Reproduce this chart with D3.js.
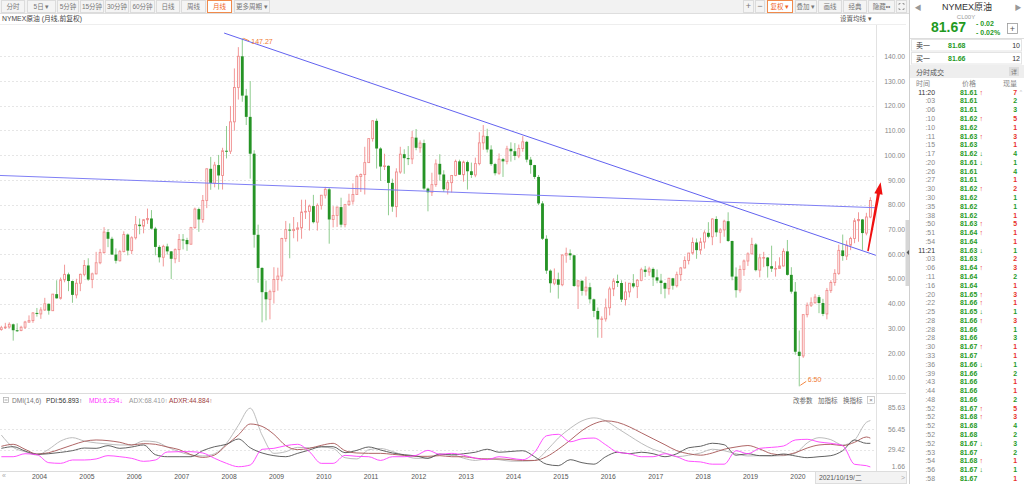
<!DOCTYPE html>
<html><head><meta charset="utf-8">
<script src="https://cdn.jsdelivr.net/npm/d3@7"></script>
<style>
html,body{margin:0;padding:0;background:#fff;overflow:hidden}
svg{display:block;font-family:"Liberation Sans","Noto Sans CJK SC",sans-serif}
</style></head><body>
<svg id="c" width="1024" height="484"></svg>
<script>
// ---------------- DATA ----------------
// monthly candles, 2003-06 .. 2021-10
const opens = [
29.5,30.2,30.5,31.6,29.2,29.1,30.4,
32.5,33.1,36.2,35.8,37.4,39.9,37.1,43.8,42.1,49.6,51.8,49.1,
43.5,48.2,51.8,55.4,49.7,52.0,56.5,60.6,68.9,66.2,59.8,57.3,
61.0,67.9,61.4,66.6,71.9,71.3,73.9,74.4,70.3,62.9,58.7,63.1,
61.1,58.1,61.8,65.9,65.7,64.0,70.7,78.2,74.0,81.7,94.5,88.7,
96.0,91.8,101.8,101.6,113.5,127.4,140.0,124.1,115.5,100.6,67.8,54.4,
44.6,41.7,44.8,49.7,51.1,66.3,69.9,69.5,70.0,70.6,77.0,77.3,
79.4,72.9,79.7,83.8,86.2,74.0,75.6,79.0,71.9,80.0,81.4,84.1,
91.4,92.2,97.0,106.7,113.9,102.7,95.4,95.7,88.8,79.2,93.2,100.4,
98.8,98.5,107.1,103.0,104.9,86.5,85.0,88.1,96.5,92.2,86.2,88.9,
91.8,97.5,92.1,97.2,93.5,92.0,96.6,105.0,107.7,102.3,96.4,92.7,
98.4,97.5,102.6,101.6,99.7,102.7,105.4,98.2,96.0,91.2,80.5,66.2,
53.3,48.2,49.8,47.6,59.6,60.3,59.5,47.1,49.2,45.1,46.6,41.7,
37.0,33.6,33.8,38.3,45.9,49.1,48.3,41.6,44.7,48.2,46.9,49.4,
53.7,52.8,54.0,50.6,49.3,48.3,46.0,50.2,47.2,51.7,54.4,57.4,
60.4,64.7,61.6,64.9,68.6,67.0,74.2,68.8,69.8,73.3,65.3,50.9,
45.4,53.8,57.2,60.1,63.9,53.5,58.5,58.6,55.1,54.1,54.2,55.2,
61.1,51.6,44.8,20.5,18.8,35.5,39.3,40.3,42.6,40.2,35.8,45.3,
48.5,52.2,61.5,59.2,63.6,66.3,73.5,74.0,68.5,75.0];
const highs = [
31.0,32.2,32.4,31.9,32.0,31.0,33.0,
35.2,36.5,38.2,38.5,42.3,40.0,43.8,49.4,50.5,55.7,52.5,49.3,
50.0,52.1,57.6,58.3,52.5,60.9,62.1,70.9,70.1,67.0,62.3,61.7,
69.2,68.3,67.2,75.4,74.4,74.2,78.4,77.8,71.0,63.6,63.8,64.2,
61.2,62.3,68.1,68.1,66.6,71.0,78.8,78.8,83.9,94.7,99.3,97.3,
100.1,103.0,111.8,119.9,135.1,143.7,147.27,126.8,130.0,102.0,71.9,54.7,
49.3,45.6,54.7,54.5,66.6,73.4,72.4,75.0,72.9,82.0,82.0,80.0,
83.95,80.5,83.9,87.2,87.0,79.4,79.2,82.8,80.3,84.4,88.6,92.1,
92.6,103.4,106.9,114.2,114.8,103.2,100.6,95.9,90.5,94.7,103.4,102.4,
103.7,109.8,110.6,106.0,106.3,86.9,92.9,98.3,100.4,93.9,89.9,92.0,
98.2,98.2,97.8,97.8,97.0,99.0,109.3,112.2,110.7,104.0,96.9,100.7,
98.9,103.8,105.2,104.9,104.3,107.7,105.8,99.3,96.1,92.0,81.4,67.6,
53.8,54.2,52.5,59.9,62.6,61.9,59.7,49.3,49.4,50.9,48.4,42.0,
38.4,34.8,42.0,46.8,50.2,51.7,49.4,48.8,48.3,51.9,49.9,54.5,
55.2,54.9,54.6,53.8,52.0,48.6,50.4,50.4,52.9,54.8,59.1,60.5,
66.7,66.3,66.6,69.6,72.9,74.5,75.3,70.5,73.9,76.9,65.4,54.6,
55.4,57.8,60.7,66.6,64.5,60.1,60.9,58.8,63.4,57.1,58.7,62.3,
65.7,54.7,48.7,29.1,35.7,40.4,42.5,43.8,43.4,41.9,46.3,49.4,
53.9,63.8,67.9,65.5,67.0,74.5,76.9,74.2,76.7,83.0];
const lows = [
29.0,29.7,30.0,25.0,28.5,28.8,29.7,
32.2,32.2,34.7,33.8,37.0,35.5,37.0,42.0,41.6,48.6,45.0,40.3,
42.1,45.0,51.0,49.2,46.2,51.8,55.9,60.2,62.8,59.7,56.2,57.0,
60.7,59.5,60.0,65.9,68.0,68.4,72.2,69.9,59.5,56.6,55.0,59.8,
49.9,56.3,56.8,61.9,61.3,63.8,70.2,69.0,72.7,78.6,86.0,87.0,
86.1,86.1,98.7,100.5,109.9,122.5,121.6,112.2,90.5,62.6,48.4,32.4,
33.2,33.6,40.0,45.2,49.0,65.0,58.3,66.4,65.1,66.2,74.2,69.5,
72.4,69.5,78.0,82.5,64.2,70.8,71.0,70.8,70.8,79.5,80.0,84.0,
85.1,84.1,96.9,105.5,94.6,89.6,94.0,75.7,77.1,74.9,92.5,92.5,
96.0,96.4,102.0,101.0,86.0,77.3,83.5,87.2,89.7,85.1,84.1,84.9,
91.5,92.0,89.3,86.1,90.8,91.1,95.9,102.2,101.1,95.7,91.8,92.1,
91.2,96.3,97.4,98.0,98.8,101.4,97.1,92.5,90.4,79.8,65.7,52.0,
44.4,47.4,42.0,47.0,56.5,57.6,46.7,37.8,43.2,43.2,40.0,34.5,
26.2,26.1,32.7,35.2,43.0,46.7,40.6,39.2,42.5,46.2,42.2,49.0,
50.7,51.2,47.1,48.2,43.8,42.1,43.6,45.6,46.5,49.1,54.2,55.8,
59.8,58.1,59.9,62.2,66.4,63.6,67.0,64.4,67.0,64.9,49.4,42.4,
44.4,51.2,55.2,59.9,53.0,50.6,54.7,50.5,52.8,50.9,54.0,55.0,
51.3,44.0,19.3,6.50,18.0,34.4,38.6,40.0,36.1,34.9,33.6,44.3,
47.2,51.6,57.3,57.6,61.6,64.4,65.0,61.7,67.6,74.5];
const closes = [
30.2,30.5,31.6,29.2,29.1,30.4,32.5,
33.1,36.2,35.8,37.4,39.9,37.1,43.8,42.1,49.6,51.8,49.1,43.5,
48.2,51.8,55.4,49.7,52.0,56.5,60.6,68.9,66.2,59.8,57.3,61.0,
67.9,61.4,66.6,71.9,71.3,73.9,74.4,70.3,62.9,58.7,63.1,61.1,
58.1,61.8,65.9,65.7,64.0,70.7,78.2,74.0,81.7,94.5,88.7,96.0,
91.8,101.8,101.6,113.5,127.4,140.0,124.1,115.5,100.6,67.8,54.4,44.6,
41.7,44.8,49.7,51.1,66.3,69.9,69.5,70.0,70.6,77.0,77.3,79.4,
72.9,79.7,83.8,86.2,74.0,75.6,79.0,71.9,80.0,81.4,84.1,91.4,
92.2,97.0,106.7,113.9,102.7,95.4,95.7,88.8,79.2,93.2,100.4,98.8,
98.5,107.1,103.0,104.9,86.5,85.0,88.1,96.5,92.2,86.2,88.9,91.8,
97.5,92.1,97.2,93.5,92.0,96.6,105.0,107.7,102.3,96.4,92.7,98.4,
97.5,102.6,101.6,99.7,102.7,105.4,98.2,96.0,91.2,80.5,66.2,53.3,
48.2,49.8,47.6,59.6,60.3,59.5,47.1,49.2,45.1,46.6,41.7,37.0,
33.6,33.8,38.3,45.9,49.1,48.3,41.6,44.7,48.2,46.9,49.4,53.7,
52.8,54.0,50.6,49.3,48.3,46.0,50.2,47.2,51.7,54.4,57.4,60.4,
64.7,61.6,64.9,68.6,67.0,74.2,68.8,69.8,73.3,65.3,50.9,45.4,
53.8,57.2,60.1,63.9,53.5,58.5,58.6,55.1,54.1,54.2,55.2,61.1,
51.6,44.8,20.5,18.8,35.5,39.3,40.3,42.6,40.2,35.8,45.3,48.5,
52.2,61.5,59.2,63.6,66.3,73.5,74.0,68.5,75.0,81.67];

const priceTicks = [10,20,30,40,50,60,70,80,90,100,110,120,130,140];
const yearKeys = ["2004-01","2005-01","2006-01","2007-01","2008-01","2009-01","2010-01","2011-01","2012-01","2013-01","2014-01","2015-01","2016-01","2017-01","2018-01","2019-01","2020-01"];
const yearLabels = ["2004","2005","2006","2007","2008","2009","2010","2011","2012","2013","2014","2015","2016","2017","2018","2019","2020"];

// drawn lines: [month index, price]
const trendDown = [[56.4,149.4],[221.4,59.5]];
const trendFlat = [[-0.34,91.8],[221.4,78.75]];
const redArrow  = [[219.4,61.2],[222.6,89.1]];

// DMI(14,6), one reading every 3rd month plus the last month
const dmiTicks = [1.66,29.42,56.45,85.63];
const adx = [49,32.5,26.7,22.3,30,41,45.5,41,38.5,37,35.7,35.7,41,40,33,26.7,22.3,21,24,38,62,85,49,24.5,26.7,32.5,32,33,31,18.7,17,29.4,31,27,21.5,17.8,18.2,22.7,23,
 18,15,17,16,14,14,15,28,45,58,68,72,68,58,48,38,30,25,20,22,25,30,28,24,21,
 21.4,21,21.4,24.5,38.4,45.5,42.8,35.7,42.4,66,68.4];
const adxr = [33.9,36.6,29.9,23.6,25.4,30.3,35.7,40.6,42.4,41.5,39.3,35.7,37.5,36.6,33,29.5,22.7,19.1,22.3,35.7,49.1,63.8,60.6,50,34.8,29.5,31.2,35.2,37.9,28.1,25,24.5,24.5,23.2,21.8,20.5,20.5,21.4,20,
 20,18,17,17,16,15,15,20,30,42,55,64,68,66,60,52,44,36,28,24,22,25,30,33,35,
 30.3,24,22.3,25.4,31.6,35.7,36.6,34.8,39.3,46.4,44.9];
const pdi = [31.2,33.4,27.6,23.2,24,25.8,28.1,31.6,31.2,34.8,31.2,33,35.7,22.7,20,20,20,28.1,33.4,36.6,43.7,32,25,21.4,20,24.5,29,33.4,33.4,25.4,28.5,33,29,25,22.7,21,17.8,23.6,22.3,
 24,26,30,26,27,28,20,10,8,16,12,10,20,26,24,26,24,20,24,32,34,38,36,22,24,
 21.4,21.4,23.6,21,18.7,20,21.4,28.1,42.4,37.9,37.9];
const mdi = [20,20,24,22.7,12,11.1,15.6,15.6,17,21.4,20,17.8,13.8,15.6,26.3,26.7,26.7,25,17.8,11.1,6.6,8.9,29.9,31.2,34.8,36.6,26.7,11.1,11.1,21.8,20.5,20,15,20,20,21.8,28.5,23.2,24.5,
 22,18,16,20,18,16,26,48,50,40,44,45,36,26,24,20,20,24,20,14,13,10,10,28,24,
 31.2,32.5,34.3,42.4,43.3,39.7,37.9,34.8,9.8,8,6.3];

// right panel: time & sales
const tradeTimes = ["11:20",":03",":06",":10",":10",":11",":15",":17",":20",
 ":26",":27",":30",":30",":35",":38",":50",":51",":54","11:21",":03",":06",":11",":16",":20",":22",":25",":28",
 ":28",":28",":30",":33",":36",":39",":43",":44",":48",":52",":52",":52",":52",":52",":53",":54",":56",":58"];
const tradePrices = [81.61,81.61,81.61,81.62,81.62,81.63,81.63,81.62,81.61,
 81.61,81.61,81.62,81.62,81.62,81.62,81.63,81.64,81.64,81.63,81.63,81.64,81.64,81.64,81.65,81.66,81.65,81.66,
 81.66,81.66,81.67,81.67,81.66,81.66,81.66,81.66,81.66,81.67,81.68,81.68,81.68,81.67,81.67,81.68,81.67,81.67];
const tradeArrows = ["↑","","","↑","","↑","","↓","↓",
 "","","↑","","","","↑","↑","","↓","","↑","","","↑","↑","↓","↑",
 "","","↑","","↓","","","","","↑","↑","","","↓","","↑","↓",""];
const tradeVols = [7,2,3,5,1,3,1,4,1,
 4,1,2,1,1,1,5,1,1,1,2,3,2,1,3,1,1,3,
 1,3,1,1,1,2,1,1,2,5,3,4,2,3,2,1,1,1];
const tradeSides = ["r","g","g","r","r","r","r","g","g",
 "g","r","r","g","g","r","r","r","r","g","r","r","g","r","r","r","g","r",
 "g","g","r","r","g","g","r","r","g","r","r","g","g","g","g","r","g","r"];

// ---------------- DRAW ----------------
const svg = d3.select("#c");
const RED = "#e8302a", GRN = "#1f9a1f";
const UP = "#f08c8c", DN = "#259325", DNW = "#82c682";

const months = d3.timeMonth.range(new Date(2003,5,1), new Date(2021,10,1));
const monthKeys = months.map(d3.timeFormat("%Y-%m"));
const x = d3.scaleBand().domain(monthKeys).range([-0.62, 872.33]);
const step = x.step();
const cx = k => x(k) + step/2;
const xi = d3.scaleLinear().domain([0, monthKeys.length-1]).range([cx(monthKeys[0]), cx(monthKeys[monthKeys.length-1])]);
const y = d3.scaleLinear().domain([10,140]).range([377.7,56.3]);
const yd = d3.scaleLinear().domain([1.66,85.63]).range([470.4,407.7]);

const defs = svg.append("defs");
defs.append("clipPath").attr("id","cm").append("rect").attr("x",0).attr("y",25).attr("width",876).attr("height",368);
defs.append("clipPath").attr("id","cd").append("rect").attr("x",0).attr("y",404).attr("width",876).attr("height",67);

// ---- top toolbar ----
svg.append("rect").attr("x",0).attr("y",0).attr("width",909).attr("height",13).attr("fill","#f2f2f2");
svg.append("line").attr("x1",0).attr("x2",909).attr("y1",13.5).attr("y2",13.5).attr("stroke","#dedede");
const leftBtns = [["分时",1,25],["5日 ▾",27,56],["5分钟",57,79],["15分钟",80,104],["30分钟",105,129],["60分钟",130,155],["日线",156,180],["周线",181,206],["月线",207,232,1],["更多周期 ▾",234,270]];
const rightBtns = [["+",743,754],["−",755,765],["复权 ▾",767,793,1],["叠加 ▾",795,817],["画线",818,842],["经典",843,867],["隐藏••",868,895]];
[...leftBtns, ...rightBtns].forEach(([t,a,b,sel]) => {
  svg.append("rect").attr("x",a+0.5).attr("y",0.5).attr("width",b-a-1).attr("height",12)
    .attr("fill", sel ? "#fff" : "#f4f4f4").attr("stroke", sel ? "#f08a4b" : "#dcdcdc");
  svg.append("text").attr("x",(a+b)/2).attr("y",9).attr("text-anchor","middle")
    .attr("font-size", (t==="+"||t==="−") ? 9 : 6.5).attr("fill", sel ? "#f0641e" : "#777").text(t);
});
// full-screen icon
svg.append("rect").attr("x",896.5).attr("y",0.5).attr("width",10).attr("height",12).attr("fill","#f4f4f4").attr("stroke","#dcdcdc");
svg.append("path").attr("d","M899,5V3.5H900.5M902.5,3.5H904V5M904,8V9.5H902.5M900.5,9.5H899V8")
  .attr("fill","none").attr("stroke","#888").attr("stroke-width",0.8);
svg.append("text").attr("x",2).attr("y",20.5).attr("font-size",6.8).attr("fill","#444").text("NYMEX原油 (月线,前复权)");
svg.append("text").attr("x",840).attr("y",20.5).attr("font-size",6.5).attr("fill","#555").text("设置均线 ▾");
svg.append("line").attr("x1",0).attr("x2",906).attr("y1",24.5).attr("y2",24.5).attr("stroke","#eeeeee");

// ---- grid ----
svg.append("g").selectAll("line").data(priceTicks).join("line")
  .attr("x1",0).attr("x2",876).attr("y1",d=>Math.round(y(d))+0.5).attr("y2",d=>Math.round(y(d))+0.5)
  .attr("stroke","#e6e6e6").attr("stroke-dasharray","2,2");
svg.append("line").attr("x1",876.5).attr("x2",876.5).attr("y1",25).attr("y2",471).attr("stroke","#e2e2e2");

// ---- price axis ----
const ay = svg.append("g").attr("transform","translate(905,0)")
  .call(d3.axisLeft(y).tickValues(priceTicks).tickFormat(d3.format(".2f")).tickSize(0).tickPadding(0));
ay.select(".domain").remove();
ay.selectAll("text").attr("font-size",6.8).attr("fill","#8a8a8a").attr("font-family","Liberation Sans");

// ---- candles ----
const candles = monthKeys.map((k,i)=>({k,o:opens[i],h:highs[i],l:lows[i],c:closes[i]}));
const gm = svg.append("g").attr("clip-path","url(#cm)");
const bw = step*0.72;
const up = candles.filter(d=>d.c>=d.o), dn = candles.filter(d=>d.c<d.o);
gm.append("g").selectAll("line").data(dn).join("line")
  .attr("x1",d=>cx(d.k)).attr("x2",d=>cx(d.k)).attr("y1",d=>y(d.h)).attr("y2",d=>y(d.l))
  .attr("stroke",DNW).attr("stroke-width",0.9);
gm.append("g").selectAll("rect").data(dn).join("rect")
  .attr("x",d=>cx(d.k)-bw/2).attr("width",bw)
  .attr("y",d=>y(d.o)).attr("height",d=>Math.max(1,y(d.c)-y(d.o))).attr("fill",DN);
gm.append("g").selectAll("line").data(up).join("line")
  .attr("x1",d=>cx(d.k)).attr("x2",d=>cx(d.k)).attr("y1",d=>y(d.h)).attr("y2",d=>y(d.c))
  .attr("stroke",UP).attr("stroke-width",0.9);
gm.append("g").selectAll("line").data(up).join("line")
  .attr("x1",d=>cx(d.k)).attr("x2",d=>cx(d.k)).attr("y1",d=>y(d.o)).attr("y2",d=>y(d.l))
  .attr("stroke",UP).attr("stroke-width",0.9);
gm.append("g").selectAll("rect").data(up).join("rect")
  .attr("x",d=>cx(d.k)-bw/2+0.5).attr("width",bw-1)
  .attr("y",d=>y(d.c)).attr("height",d=>Math.max(0.6,y(d.o)-y(d.c)))
  .attr("fill","#fff").attr("stroke",UP).attr("stroke-width",0.9);

// ---- trend lines ----
const tl = d3.line().x(d=>xi(d[0])).y(d=>y(d[1]));
gm.append("path").attr("d",tl(trendFlat)).attr("fill","none").attr("stroke","#7f7ff5").attr("stroke-width",1);
gm.append("path").attr("d",tl(trendDown)).attr("fill","none").attr("stroke","#6262f0").attr("stroke-width",1);

// ---- max / min labels ----
const iMax = d3.maxIndex(highs), iMin = d3.minIndex(lows);
const pMax = [cx(monthKeys[iMax]), y(highs[iMax])], pMin = [cx(monthKeys[iMin]), y(lows[iMin])];
const OR = "#f07a30";
svg.append("line").attr("x1",pMax[0]+1).attr("y1",pMax[1]).attr("x2",pMax[0]+7).attr("y2",pMax[1]+2.5).attr("stroke",OR).attr("stroke-width",0.9);
svg.append("text").attr("x",pMax[0]+9).attr("y",pMax[1]+5.5).attr("font-size",7).attr("fill",OR).text(d3.format(".2f")(highs[iMax]));
svg.append("line").attr("x1",pMin[0]+1).attr("y1",pMin[1]-1).attr("x2",pMin[0]+7).attr("y2",pMin[1]-5).attr("stroke",OR).attr("stroke-width",0.9);
svg.append("text").attr("x",pMin[0]+8.5).attr("y",pMin[1]-4).attr("font-size",7).attr("fill",OR).text(d3.format(".2f")(lows[iMin]));

// ---- red arrow ----
{
  const p0=[xi(redArrow[0][0]),y(redArrow[0][1])], p1=[xi(redArrow[1][0]),y(redArrow[1][1])];
  const dx=p1[0]-p0[0], dy=p1[1]-p0[1], L=Math.hypot(dx,dy), ux=dx/L, uy=dy/L, nx=-uy, ny=ux;
  const hl=12, hw=4.2;
  const b=[p1[0]-ux*hl, p1[1]-uy*hl];
  svg.append("path").attr("d",`M${p0[0]-nx*0.8},${p0[1]-ny*0.8}L${b[0]-nx*1.5},${b[1]-ny*1.5}L${b[0]-nx*hw},${b[1]-ny*hw}L${p1[0]},${p1[1]}L${b[0]+nx*hw},${b[1]+ny*hw}L${b[0]+nx*1.5},${b[1]+ny*1.5}L${p0[0]+nx*0.8},${p0[1]+ny*0.8}Z`)
    .attr("fill","#f01010");
}

// ---- DMI panel ----
svg.append("line").attr("x1",0).attr("x2",906).attr("y1",393.5).attr("y2",393.5).attr("stroke","#dcdcdc");
svg.append("g").selectAll("line").data([29.42,56.45]).join("line")
  .attr("x1",0).attr("x2",876).attr("y1",d=>Math.round(yd(d))+0.5).attr("y2",d=>Math.round(yd(d))+0.5)
  .attr("stroke","#e6e6e6").attr("stroke-dasharray","2,2");
const dmiKeys = monthKeys.filter((k,i)=> i%3===0 || i===monthKeys.length-1);
const dl = d3.line().x(d=>cx(d[0])).y(d=>yd(d[1])).curve(d3.curveMonotoneX);
const gd = svg.append("g").attr("clip-path","url(#cd)");
[[adx,"#b4b4b4"],[adxr,"#a65555"],[pdi,"#505050"],[mdi,"#ff3cff"]].forEach(([arr,col])=>{
  gd.append("path").attr("d",dl(dmiKeys.map((k,i)=>[k,arr[i]]))).attr("fill","none").attr("stroke",col).attr("stroke-width",0.9);
});
const ad = svg.append("g").attr("transform","translate(905,0)")
  .call(d3.axisLeft(yd).tickValues(dmiTicks).tickFormat(d3.format(".2f")).tickSize(0).tickPadding(0));
ad.select(".domain").remove();
ad.selectAll("text").attr("font-size",6.8).attr("fill","#8a8a8a").attr("font-family","Liberation Sans");
ad.selectAll(".tick").filter(d=>d===1.66).select("text").attr("y",-4.5);

// legend
svg.append("rect").attr("x",3.5).attr("y",397.5).attr("width",5).attr("height",5).attr("fill","none").attr("stroke","#aaa").attr("stroke-width",0.7);
svg.append("line").attr("x1",4.5).attr("x2",7.5).attr("y1",400).attr("y2",400).attr("stroke","#888").attr("stroke-width",0.7);
const leg = [["DMI(14,6)","#777",12],["PDI:56.893↑","#333",46],["MDI:6.294↓","#ff30ff",89],["ADX:68.410↑","#999",129],["ADXR:44.884↑","#a04040",169]];
leg.forEach(([t,c,lx])=>svg.append("text").attr("x",lx).attr("y",402.5).attr("font-size",6.6).attr("fill",c).text(t));
[["改参数",793],["加指标",818],["换指标",843]].forEach(([t,lx])=>svg.append("text").attr("x",lx).attr("y",402.5).attr("font-size",6.5).attr("fill","#666").text(t));
svg.append("rect").attr("x",867.5).attr("y",396.5).attr("width",7).attr("height",7).attr("fill","#fff").attr("stroke","#bbb").attr("stroke-width",0.7);
svg.append("text").attr("x",871).attr("y",402.3).attr("text-anchor","middle").attr("font-size",6).attr("fill","#777").text("×");

// ---- bottom time axis ----
const ax = svg.append("g").attr("transform","translate(0,471)")
  .call(d3.axisBottom(x).tickValues(yearKeys).tickFormat((d,i)=>yearLabels[i]).tickSize(0).tickPadding(0));
ax.select(".domain").attr("stroke","#dcdcdc").attr("d","M0,0.5H906");
ax.selectAll(".tick text").attr("text-anchor","start").attr("x",step/2+1).attr("y",3.5)
  .attr("font-size",6.8).attr("fill","#555").attr("font-family","Liberation Sans");
svg.append("text").attr("x",2).attr("y",478).attr("font-size",7).attr("fill","#aaa").text("«");
svg.append("rect").attr("x",815.5).attr("y",471.5).attr("width",91).attr("height",12).attr("fill","#f3f3f3").attr("stroke","#dddddd");
svg.append("text").attr("x",819).attr("y",480).attr("font-size",6.8).attr("fill","#555").text("2021/10/19/二");
svg.append("text").attr("x",903).attr("y",480).attr("text-anchor","middle").attr("font-size",7).attr("fill","#aaa").text(">");

// ---- right panel ----
svg.append("rect").attr("x",909).attr("y",0).attr("width",115).attr("height",484).attr("fill","#fff");
svg.append("line").attr("x1",909.5).attr("x2",909.5).attr("y1",0).attr("y2",484).attr("stroke","#cfcfcf");
svg.append("rect").attr("x",905.5).attr("y",220).attr("width",3.5).attr("height",66).attr("fill","#d6d6d6");
svg.append("path").attr("d","M909,250L906.5,252.5L909,255Z").attr("fill","#555");
const rp = svg.append("g");
rp.append("text").attr("x",918).attr("y",9.5).attr("text-anchor","middle").attr("font-size",7).attr("fill","#999").text("◀");
rp.append("text").attr("x",1018).attr("y",9.5).attr("text-anchor","middle").attr("font-size",7).attr("fill","#999").text("▶");
rp.append("text").attr("x",967).attr("y",10).attr("text-anchor","middle").attr("font-size",9).attr("fill","#333").text("NYMEX原油");
rp.append("text").attr("x",966).attr("y",18.5).attr("text-anchor","middle").attr("font-size",6).attr("fill","#999").text("CL00Y");
rp.append("text").attr("x",931).attr("y",32).attr("font-size",14).attr("font-weight","bold").attr("fill",GRN).text("81.67");
rp.append("text").attr("x",976).attr("y",26).attr("font-size",7).attr("font-weight","bold").attr("fill",GRN).text("- 0.02");
rp.append("text").attr("x",976).attr("y",35).attr("font-size",7).attr("font-weight","bold").attr("fill",GRN).text("- 0.02%");
rp.append("rect").attr("x",1007.5).attr("y",23.5).attr("width",10).attr("height",10).attr("fill","#fff").attr("stroke","#999").attr("stroke-width",0.8);
rp.append("text").attr("x",1012.5).attr("y",31.5).attr("text-anchor","middle").attr("font-size",9).attr("fill","#555").text("+");
rp.append("line").attr("x1",910).attr("x2",1024).attr("y1",38.5).attr("y2",38.5).attr("stroke","#dddddd");
[["卖一","81.68","10",39.5],["买一","81.66","12",52.5]].forEach(([a,p,v,ry])=>{
  rp.append("rect").attr("x",911.5).attr("y",ry).attr("width",110).attr("height",11.5).attr("fill","#fff").attr("stroke","#e4e4e4");
  rp.append("text").attr("x",916).attr("y",ry+8.5).attr("font-size",7).attr("fill","#333").text(a);
  rp.append("text").attr("x",948).attr("y",ry+8.5).attr("font-size",7).attr("font-weight","bold").attr("fill",GRN).text(p);
  rp.append("text").attr("x",1020).attr("y",ry+8.5).attr("text-anchor","end").attr("font-size",7).attr("fill","#333").text(v);
});
rp.append("rect").attr("x",910).attr("y",65).attr("width",114).attr("height",13).attr("fill","#eeeeee");
rp.append("text").attr("x",916).attr("y",74.5).attr("font-size",7).attr("fill","#555").text("分时成交");
rp.append("rect").attr("x",1009).attr("y",67).attr("width",10).attr("height",9).attr("fill","#dcdcdc");
rp.append("text").attr("x",1014).attr("y",74).attr("text-anchor","middle").attr("font-size",6).attr("fill","#777").text("详");
rp.append("text").attr("x",916).attr("y",86).attr("font-size",7).attr("fill","#888").text("时间");
rp.append("text").attr("x",969).attr("y",86).attr("text-anchor","middle").attr("font-size",7).attr("fill","#888").text("价格");
rp.append("text").attr("x",1017).attr("y",86).attr("text-anchor","end").attr("font-size",7).attr("fill","#888").text("现量");
rp.append("text").attr("x",1021).attr("y",94).attr("text-anchor","middle").attr("font-size",5).attr("fill","#bbb").text("^");
const rows = rp.append("g").selectAll("g").data(tradeTimes).join("g")
  .attr("transform",(d,i)=>`translate(0,${94.6+i*8.78})`);
rows.append("text").attr("x",935).attr("text-anchor","end").attr("font-size",6.9)
  .attr("fill",d=>d.length>3?"#333":"#888").text(d=>d);
rows.append("text").attr("x",960).attr("font-size",6.9).attr("font-weight","bold").attr("fill",GRN)
  .text((d,i)=>d3.format(".2f")(tradePrices[i]));
rows.append("text").attr("x",979.5).attr("font-size",6.9).attr("font-weight","bold")
  .attr("fill",(d,i)=>tradeArrows[i]==="↑"?RED:GRN).text((d,i)=>tradeArrows[i]);
rows.append("text").attr("x",1017).attr("text-anchor","end").attr("font-size",6.9).attr("font-weight","bold")
  .attr("fill",(d,i)=>tradeSides[i]==="r"?RED:GRN).text((d,i)=>tradeVols[i]);
</script></body></html>
